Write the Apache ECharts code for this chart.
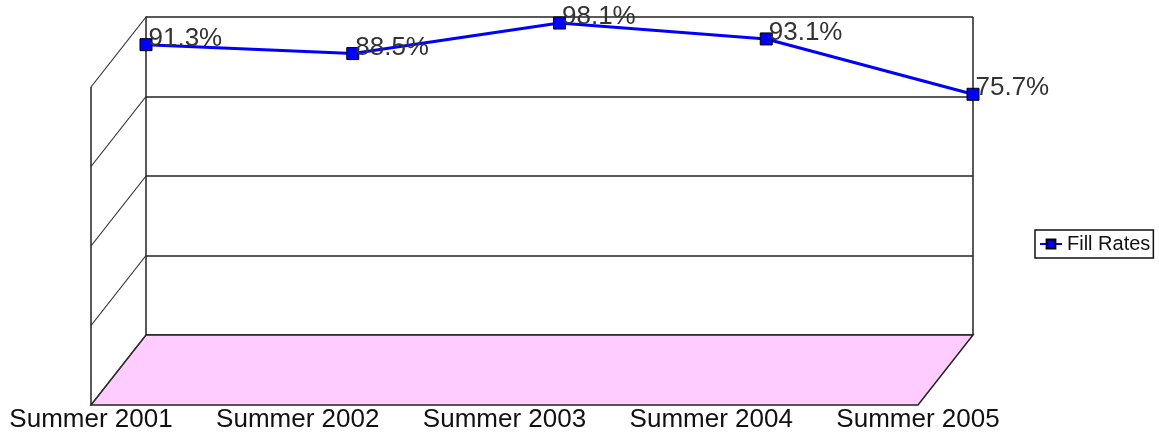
<!DOCTYPE html>
<html>
<head>
<meta charset="utf-8">
<script src="https://cdn.jsdelivr.net/npm/echarts@6/dist/echarts.min.js"></script>
<style>
  html, body { margin: 0; padding: 0; background: #fff; }
  #chart { width: 1159px; height: 433px; }
</style>
</head>
<body>
<div id="chart"></div>
<script>
  let categories = ['Summer 2001', 'Summer 2002', 'Summer 2003', 'Summer 2004', 'Summer 2005']
  let fillRates = [91.3, 88.5, 98.1, 93.1, 75.7]
  let yTicks = [0, 25, 50, 75, 100]

  let myChart = echarts.init(document.getElementById('chart'))
  let font = 'Arial, "Liberation Sans", sans-serif'

  myChart.setOption({
    animation: false,
    backgroundColor: '#fff',
    grid: [
      // back wall
      { left: 146, right: 186, top: 17, bottom: 98 },
      // front edge of the floor, only used for the category labels
      { left: 91, right: 241, top: 335, bottom: 28 }
    ],
    legend: {
      left: 1035,
      top: 230,
      orient: 'vertical',
      padding: [4, 3, 4, 4],
      borderColor: '#111',
      borderWidth: 1.5,
      borderRadius: 0,
      itemWidth: 22,
      itemHeight: 11,
      itemGap: 4,
      textStyle: { fontFamily: font, fontSize: 20, color: '#111' },
      data: ['Fill Rates']
    },
    xAxis: [{
      type: 'category',
      gridIndex: 0,
      data: categories,
      boundaryGap: false,
      axisLine: { show: false },
      axisTick: { show: false },
      axisLabel: { show: false }
    }, {
      type: 'category',
      gridIndex: 1,
      data: categories,
      boundaryGap: false,
      axisLine: { show: false },
      axisTick: { show: false },
      axisLabel: { interval: 0, hideOverlap: false, margin: 5, fontFamily: font, fontSize: 26, color: '#111' }
    }],
    yAxis: [{
      type: 'value',
      gridIndex: 0,
      min: yTicks[0],
      max: yTicks[yTicks.length - 1],
      interval: 25,
      axisLine: { show: true, lineStyle: { color: '#222', width: 1.5 } },
      axisTick: { show: false },
      axisLabel: { show: false },
      splitLine: { show: true, lineStyle: { color: '#222', width: 1.5 } }
    }, {
      type: 'value',
      gridIndex: 1,
      show: false
    }],
    series: [{
      name: 'Fill Rates',
      type: 'line',
      xAxisIndex: 0,
      yAxisIndex: 0,
      data: fillRates,
      symbol: 'rect',
      symbolSize: 12,
      z: 5,
      lineStyle: { color: '#0000ff', width: 3 },
      itemStyle: { color: '#0000ff', borderColor: '#000', borderWidth: 1 },
      label: {
        show: true,
        position: 'right',
        distance: 0,
        offset: [-4, -6],
        formatter: function (p) { return p.value.toFixed(1) + '%' },
        fontFamily: font,
        fontSize: 26,
        color: '#333'
      }
    }]
  })

  // 3D side wall and floor, worked out from the two axes
  let backLeft = myChart.convertToPixel({ xAxisIndex: 0 }, categories[0])
  let backRight = myChart.convertToPixel({ xAxisIndex: 0 }, categories[categories.length - 1])
  let frontLeft = myChart.convertToPixel({ xAxisIndex: 1 }, categories[0])
  let frontRight = myChart.convertToPixel({ xAxisIndex: 1 }, categories[categories.length - 1])
  let backBottom = myChart.convertToPixel({ yAxisIndex: 0 }, yTicks[0])
  let backTop = myChart.convertToPixel({ yAxisIndex: 0 }, yTicks[yTicks.length - 1])
  let dx = frontLeft - backLeft
  let dy = 433 - 28 - backBottom
  let frontBottom = backBottom + dy

  let edge = { stroke: '#222', lineWidth: 1.5 }
  let thin = { stroke: '#333', lineWidth: 1.2 }
  let graphic = []

  graphic.push({
    type: 'polygon',
    z: 1,
    shape: { points: [[frontLeft, frontBottom], [frontRight, frontBottom], [backRight, backBottom], [backLeft, backBottom]] },
    style: { fill: '#ffccff', stroke: '#222', lineWidth: 1.5 }
  })
  yTicks.forEach(function (v) {
    let y = myChart.convertToPixel({ yAxisIndex: 0 }, v)
    graphic.push({
      type: 'line', z: 2,
      shape: { x1: backLeft, y1: y, x2: backLeft + dx, y2: y + dy },
      style: thin
    })
  })
  graphic.push({
    type: 'line', z: 2,
    shape: { x1: frontLeft, y1: backTop + dy, x2: frontLeft, y2: frontBottom },
    style: edge
  })
  graphic.push({
    type: 'line', z: 2,
    shape: { x1: backRight, y1: backTop, x2: backRight, y2: backBottom },
    style: edge
  })

  myChart.setOption({ graphic: graphic })
</script>
</body>
</html>
